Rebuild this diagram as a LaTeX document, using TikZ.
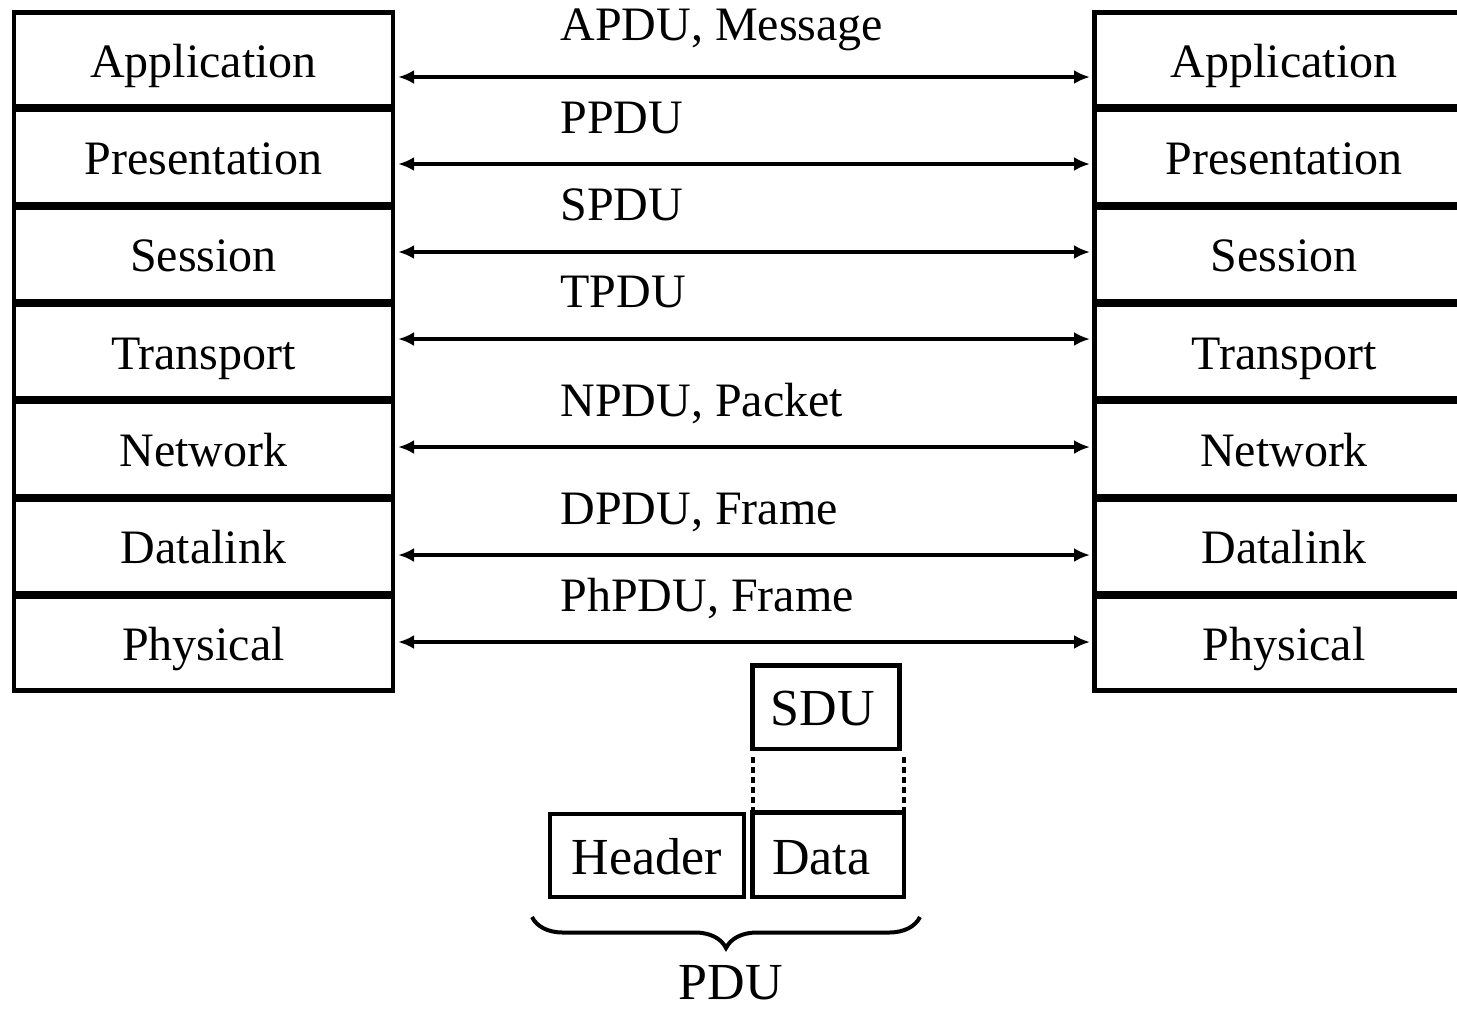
\documentclass[tikz,border=0pt]{standalone}
\usepackage{fontspec}
\setmainfont{Liberation Serif}
\usetikzlibrary{arrows.meta,decorations.pathreplacing,calc}
\begin{document}
\begin{tikzpicture}[x=0.5pt,y=-0.5pt,
  layer/.style={draw,line width=2.3pt,minimum width=189.5pt,minimum height=47pt,inner sep=0pt,
    text height=17.25pt,text depth=0pt,font=\fontsize{24}{28}\selectfont},
  pduarrow/.style={{Latex[length=8pt,width=7pt]}-{Latex[length=8pt,width=7pt]},line width=2.1pt,
    shorten <=1.4pt,shorten >=1.1pt},
  lab/.style={anchor=base west,inner sep=0pt,font=\fontsize{24}{28}\selectfont},
  unitbox/.style={draw,line width=2.3pt,inner sep=0pt,outer sep=0pt,text depth=0pt,font=\fontsize{26}{30}\selectfont},
  dotline/.style={line width=2pt,dash pattern=on 2.8pt off 2.2pt}]
\clip (0,0) rectangle (1457,1009);
% layer stacks
\foreach \name [count=\k from 0] in {Application,Presentation,Session,Transport,Network,Datalink,Physical}{
  \node[layer] (L\k) at (203.5,{59.75+97.33*\k}) {\name};
  \node[layer] (R\k) at (1284,{59.75+97.33*\k}) {\name};
}
% arrows
\foreach \y [count=\k from 0] in {77,164,252,339,447,555,642}{
  \draw[pduarrow] (L\k.east |- 0,\y) -- (R\k.west |- 0,\y);
}
% labels
\foreach \b/\t [count=\k from 0] in {40/{APDU, Message},133/PPDU,220/SPDU,307/TPDU,416/{NPDU, Packet},524/{DPDU, Frame},611/{PhPDU, Frame}}{
  \node[lab] (t\k) at (560,\b) {\t};
}
% PDU structure
\node[unitbox,minimum width=73.5pt,minimum height=41.75pt,text height=17.75pt] (sdu) at (826,707.25) {SDU\hspace*{3pt}};
\node[unitbox,minimum width=97pt,minimum height=41.5pt,text height=18.5pt] (hdr) at (647,855.5) {Header};
\node[unitbox,minimum width=75.75pt,minimum height=42.25pt,text height=19.25pt] (data) at (828.25,854.75) {Data\hspace*{7pt}};
\draw[dotline,shorten >=2.5pt] (data.north west) -- (sdu.south west);
\draw[dotline,shorten >=2.5pt] (data.north east) -- (data.north east |- sdu.south);
\coordinate (bR) at (920,917);
\coordinate (bL) at (532,917);
\draw[line width=2pt,decorate,decoration={brace,amplitude=15.5pt}] (bR) -- (bL);
\node[anchor=base,inner sep=0pt,font=\fontsize{26}{30}\selectfont] (pdu) at (731,999) {PDU};
\end{tikzpicture}
\end{document}
